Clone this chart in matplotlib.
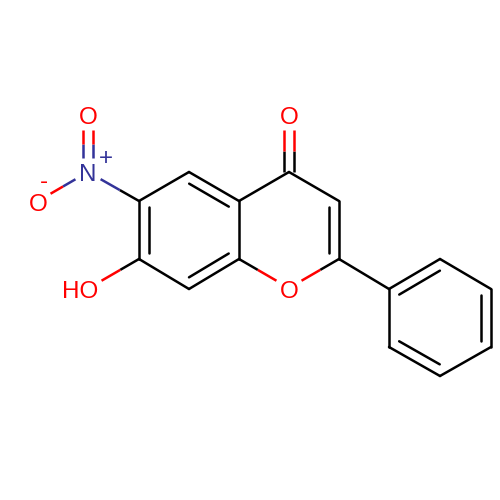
import numpy as np
import matplotlib
matplotlib.use("Agg")
import matplotlib.pyplot as plt

# Atom positions
atom_names = ["C6", "C7", "C8", "C8a", "C4a", "C5", "C4", "C3", "C2", "O1", "O4",
              "P1", "P2", "P3", "P4", "P5", "P6", "N", "Ot", "Om", "OH"]
atom_x = [139, 139, 189, 239, 239, 189, 289, 339, 339, 289, 289,
          389, 440, 491, 491, 440, 389, 88, 88, 38, 89]
atom_y = [201, 259, 289, 259, 201, 172, 172, 201, 259, 288, 115,
          289, 259, 289, 347, 376, 347, 172, 115, 201, 288]
atom_elem = ["C"] * 9 + ["O", "O"] + ["C"] * 6 + ["N", "O", "O", "O"]

# Bonds: (atom a, atom b, order, ring centre for inner line)
ring_a = "A"
ring_b = "B"
ring_c = "C"
bonds = [
    ("C6", "C7", 2, ring_a), ("C7", "C8", 1, None), ("C8", "C8a", 2, ring_a),
    ("C8a", "C4a", 1, None), ("C4a", "C5", 2, ring_a), ("C5", "C6", 1, None),
    ("C4a", "C4", 1, None), ("C4", "C3", 1, None), ("C3", "C2", 2, ring_b),
    ("C2", "O1", 1, None), ("O1", "C8a", 1, None), ("C4", "O4", 2, "sym"),
    ("C2", "P1", 1, None), ("P1", "P2", 2, ring_c), ("P2", "P3", 1, None),
    ("P3", "P4", 2, ring_c), ("P4", "P5", 1, None), ("P5", "P6", 2, ring_c),
    ("P6", "P1", 1, None), ("C6", "N", 1, None), ("N", "Ot", 2, "sym"),
    ("N", "Om", 1, None), ("C7", "OH", 1, None),
]
ring_atoms = {
    "A": ["C6", "C7", "C8", "C8a", "C4a", "C5"],
    "B": ["C4a", "C4", "C3", "C2", "O1", "C8a"],
    "C": ["P1", "P2", "P3", "P4", "P5", "P6"],
}
labels = [
    ("O", 289, 118, "#FF0000", 17.5), ("O", 289, 292, "#FF0000", 17.5),
    ("O", 88, 118, "#FF0000", 17.5), ("O", 38, 205, "#FF0000", 17.5),
    ("N", 88, 175, "#333399", 17.5), ("HO", 80, 292, "#FF0000", 17.5),
    ("+", 106, 159, "#333399", 17.5), ("-", 44, 182, "#FF0000", 17.5),
]

COL = {"C": "#000000", "O": "#FF0000", "N": "#333399"}
GAP = 14.5
LW = 1.8
INNER = 10.0
SHORT = 6.0

pos = {n: np.array([x, y], float) for n, x, y in zip(atom_names, atom_x, atom_y)}
elem = dict(zip(atom_names, atom_elem))

plt.rcParams["font.family"] = ["Liberation Sans", "DejaVu Sans"]
fig = plt.figure(figsize=(5, 5), dpi=100, facecolor="white")
ax = fig.add_axes([0, 0, 1, 1])
ax.set_xlim(0, 500)
ax.set_ylim(500, 0)
ax.axis("off")


def seg(p, q, ca, cb):
    if ca == cb:
        ax.plot([p[0], q[0]], [p[1], q[1]], color=ca, lw=LW, solid_capstyle="round")
        return
    m = (p + q) / 2
    ax.plot([p[0], m[0]], [p[1], m[1]], color=ca, lw=LW, solid_capstyle="butt")
    ax.plot([m[0], q[0]], [m[1], q[1]], color=cb, lw=LW, solid_capstyle="butt")


for a, b, order, mode in bonds:
    p, q = pos[a].copy(), pos[b].copy()
    u = (q - p) / np.linalg.norm(q - p)
    n = np.array([-u[1], u[0]])
    if elem[a] != "C":
        p = p + u * GAP
    if elem[b] != "C":
        q = q - u * GAP
    ca, cb = COL[elem[a]], COL[elem[b]]
    if order == 1:
        seg(p, q, ca, cb)
    elif mode == "sym":
        seg(p + n * INNER / 2, q + n * INNER / 2, ca, cb)
        seg(p - n * INNER / 2, q - n * INNER / 2, ca, cb)
    else:
        seg(p, q, ca, cb)
        centre = np.mean([pos[r] for r in ring_atoms[mode]], axis=0)
        side = 1 if np.dot(centre - p, n) > 0 else -1
        seg(p + n * side * INNER + u * SHORT, q + n * side * INNER - u * SHORT, ca, cb)

for text, x, y, color, size in labels:
    ax.text(x, y, text, color=color, fontsize=size, ha="center", va="center")

fig.savefig("out.png", dpi=100, facecolor="white")
